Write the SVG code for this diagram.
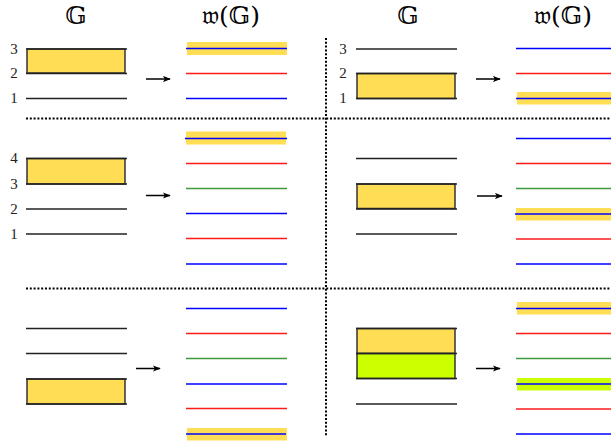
<svg xmlns="http://www.w3.org/2000/svg" width="611" height="445" viewBox="0 0 611 445">
  <defs>
    <marker id="head" viewBox="0 0 10 8" refX="9" refY="4" markerWidth="8" markerHeight="6.4" markerUnits="userSpaceOnUse" orient="auto">
      <path d="M0,0 L10,4 L0,8 L2.5,4 Z" fill="#000"/>
    </marker>
  </defs>
  <style>
    .title { font-family: "DejaVu Serif", "Liberation Serif", serif; font-size: 25px; fill: #000; text-anchor: middle; }
    .num { font-family: "Liberation Serif", serif; font-size: 15px; fill: #222; text-anchor: middle; }
    .lv { stroke: #222; stroke-width: 1.3; fill: none; }
    .box { fill: #FFDD55; stroke: #333; stroke-width: 1.5; }
    .box2 { fill: #CCFF00; stroke: #333; stroke-width: 1.5; }
    .hl { fill: #FFDD55; }
    .hl2 { fill: #CCFF00; }
    .b { stroke: #0000FF; stroke-width: 1.4; }
    .r { stroke: #FF1A1A; stroke-width: 1.3; }
    .g { stroke: #3F9A3F; stroke-width: 1.6; }
    .sep { stroke: #000; stroke-width: 2; stroke-dasharray: 2 1.8; fill: none; }
    .arr { stroke: #000; stroke-width: 1.5; marker-end: url(#head); }
  </style>

  <!-- column headings -->
  <g id="headings">
    <text class="title" x="76" y="24">𝔾</text>
    <text class="title" x="231" y="24">𝔴(𝔾)</text>
    <text class="title" x="408" y="24">𝔾</text>
    <text class="title" x="563" y="24">𝔴(𝔾)</text>
  </g>

  <!-- panel separators -->
  <g id="separators">
    <line class="sep" x1="26" y1="118.5" x2="611" y2="118.5"/>
    <line class="sep" x1="26" y1="288.5" x2="611" y2="288.5"/>
    <line class="sep" x1="326" y1="38" x2="326" y2="437"/>
  </g>

  <!-- panel A: three levels, box on 2-3 -->
  <g id="panelA-left">
    <rect class="box" x="27" y="49" width="98" height="24"/>
    <line class="lv" x1="26" y1="49" x2="127" y2="49"/>
    <line class="lv" x1="26" y1="73.5" x2="127" y2="73.5"/>
    <line class="lv" x1="26" y1="98.5" x2="127" y2="98.5"/>
    <text class="num" x="14" y="53.5">3</text>
    <text class="num" x="14" y="77.5">2</text>
    <text class="num" x="14" y="103">1</text>
  </g>
  <g id="panelA-right">
    <rect class="hl" x="187" y="42" width="100" height="13"/>
    <line class="b" x1="186" y1="48.5" x2="287" y2="48.5"/>
    <line class="r" x1="186" y1="73.5" x2="287" y2="73.5"/>
    <line class="b" x1="186" y1="98.5" x2="287" y2="98.5"/>
  </g>

  <!-- panel B: three levels, box on 1-2 -->
  <g id="panelB-left">
    <rect class="box" x="357" y="73.5" width="98" height="25"/>
    <line class="lv" x1="356" y1="49" x2="457" y2="49"/>
    <line class="lv" x1="356" y1="73.5" x2="457" y2="73.5"/>
    <line class="lv" x1="356" y1="98.5" x2="457" y2="98.5"/>
    <text class="num" x="343" y="53.5">3</text>
    <text class="num" x="343" y="77.5">2</text>
    <text class="num" x="343" y="103">1</text>
  </g>
  <g id="panelB-right">
    <rect class="hl" x="517" y="92" width="94" height="12.5"/>
    <line class="b" x1="516" y1="48.5" x2="611" y2="48.5"/>
    <line class="r" x1="516" y1="73.5" x2="611" y2="73.5"/>
    <line class="b" x1="516" y1="98.5" x2="611" y2="98.5"/>
  </g>

  <!-- panel C: four levels, box on 3-4 -->
  <g id="panelC-left">
    <rect class="box" x="27" y="158.5" width="98" height="25.5"/>
    <line class="lv" x1="26" y1="158.5" x2="127" y2="158.5"/>
    <line class="lv" x1="26" y1="184" x2="127" y2="184"/>
    <line class="lv" x1="26" y1="209" x2="127" y2="209"/>
    <line class="lv" x1="26" y1="234" x2="127" y2="234"/>
    <text class="num" x="14" y="163">4</text>
    <text class="num" x="14" y="188.5">3</text>
    <text class="num" x="14" y="213.5">2</text>
    <text class="num" x="14" y="238.5">1</text>
  </g>
  <g id="panelC-right">
    <rect class="hl" x="186" y="131.5" width="100" height="13"/>
    <line class="b" x1="185" y1="138.5" x2="287" y2="138.5"/>
    <line class="r" x1="186" y1="163.5" x2="287" y2="163.5"/>
    <line class="g" x1="186" y1="188.5" x2="287" y2="188.5"/>
    <line class="b" x1="186" y1="213.5" x2="287" y2="213.5"/>
    <line class="r" x1="186" y1="238.5" x2="287" y2="238.5"/>
    <line class="b" x1="186" y1="264" x2="287" y2="264"/>
  </g>

  <!-- panel D: three levels, box on the middle pair -->
  <g id="panelD-left">
    <rect class="box" x="357" y="184" width="98" height="24.5"/>
    <line class="lv" x1="356" y1="158.5" x2="457" y2="158.5"/>
    <line class="lv" x1="356" y1="184" x2="457" y2="184"/>
    <line class="lv" x1="356" y1="209" x2="457" y2="209"/>
    <line class="lv" x1="356" y1="234" x2="457" y2="234"/>
  </g>
  <g id="panelD-right">
    <rect class="hl" x="516" y="208" width="95" height="12.5"/>
    <line class="b" x1="516" y1="138.5" x2="611" y2="138.5"/>
    <line class="r" x1="516" y1="163.5" x2="611" y2="163.5"/>
    <line class="g" x1="516" y1="188.5" x2="611" y2="188.5"/>
    <line class="b" x1="515" y1="214" x2="611" y2="214"/>
    <line class="r" x1="516" y1="239" x2="611" y2="239"/>
    <line class="b" x1="516" y1="264" x2="611" y2="264"/>
  </g>

  <!-- panel E: box on the lowest pair -->
  <g id="panelE-left">
    <rect class="box" x="27" y="379" width="98" height="25"/>
    <line class="lv" x1="26" y1="328.5" x2="127" y2="328.5"/>
    <line class="lv" x1="26" y1="353.5" x2="127" y2="353.5"/>
    <line class="lv" x1="26" y1="379" x2="127" y2="379"/>
    <line class="lv" x1="26" y1="404" x2="127" y2="404"/>
  </g>
  <g id="panelE-right">
    <rect class="hl" x="187" y="428" width="100" height="12.5"/>
    <line class="b" x1="186" y1="308.5" x2="287" y2="308.5"/>
    <line class="r" x1="186" y1="333.5" x2="287" y2="333.5"/>
    <line class="g" x1="186" y1="358.5" x2="287" y2="358.5"/>
    <line class="b" x1="186" y1="384" x2="287" y2="384"/>
    <line class="r" x1="186" y1="408.5" x2="287" y2="408.5"/>
    <line class="b" x1="186" y1="434" x2="286" y2="434"/>
  </g>

  <!-- panel F: two stacked boxes -->
  <g id="panelF-left">
    <rect class="box" x="357" y="328.5" width="98" height="25"/>
    <rect class="box2" x="357" y="353.5" width="98" height="25"/>
    <line class="lv" x1="356" y1="328.5" x2="457" y2="328.5"/>
    <line class="lv" x1="356" y1="353.5" x2="457" y2="353.5"/>
    <line class="lv" x1="356" y1="378.5" x2="457" y2="378.5"/>
    <line class="lv" x1="356" y1="404" x2="457" y2="404"/>
  </g>
  <g id="panelF-right">
    <rect class="hl" x="517" y="302" width="94" height="12.5"/>
    <rect class="hl2" x="517" y="378" width="94" height="12.5"/>
    <line class="b" x1="516" y1="308.5" x2="611" y2="308.5"/>
    <line class="r" x1="516" y1="333.5" x2="611" y2="333.5"/>
    <line class="g" x1="516" y1="358.5" x2="611" y2="358.5"/>
    <line class="b" x1="516" y1="384" x2="611" y2="384"/>
    <line class="r" x1="516" y1="409" x2="611" y2="409"/>
    <line class="b" x1="516" y1="434" x2="611" y2="434"/>
  </g>

  <!-- mapping arrows -->
  <g id="connectors">
    <line class="arr" x1="146" y1="79" x2="170" y2="79"/>
    <line class="arr" x1="476" y1="79" x2="500" y2="79"/>
    <line class="arr" x1="146" y1="195.5" x2="170" y2="195.5"/>
    <line class="arr" x1="477" y1="196" x2="502" y2="196"/>
    <line class="arr" x1="136" y1="368.5" x2="160" y2="368.5"/>
    <line class="arr" x1="476" y1="368.5" x2="500" y2="368.5"/>
  </g>
</svg>
